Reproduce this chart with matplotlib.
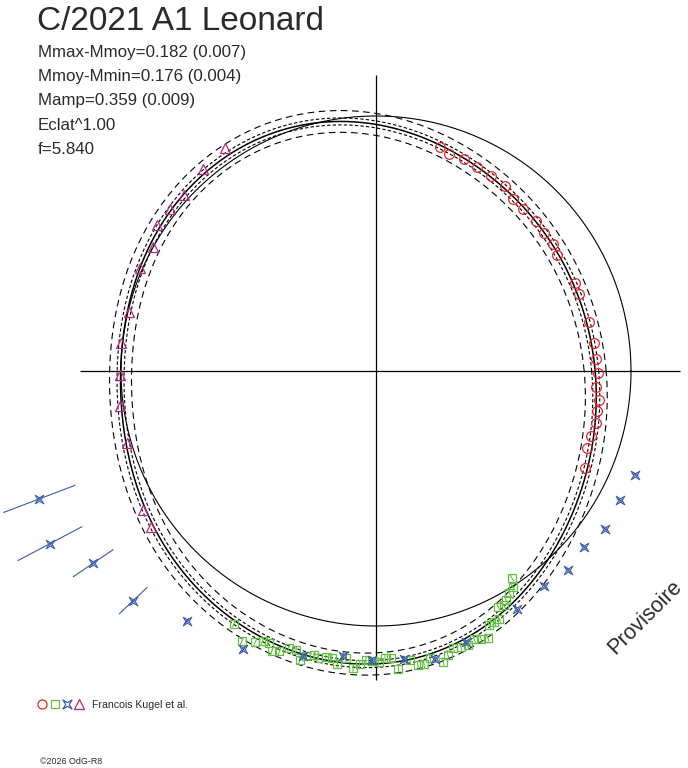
import numpy as np
import matplotlib
matplotlib.use('Agg')
import matplotlib.pyplot as plt
from matplotlib.path import Path

plt.rcParams['font.family'] = ['Liberation Sans', 'DejaVu Sans']

W, H = 688, 768          # output size, pixels
CX, CY = 376, 371        # pole of the polar diagram (pixels from top-left)

title = 'C/2021 A1 Leonard'
info_lines = ['Mmax-Mmoy=0.182 (0.007)',
              'Mmoy-Mmin=0.176 (0.004)',
              'Mamp=0.359 (0.009)',
              'Eclat^1.00',
              'f=5.840']
observer = 'Francois Kugel et al.'
credit = '\u00a92026 OdG-R8'
stamp = 'Provisoire'

## reference circle and fitted curve (radius in px, phase angle in degrees)
ref_r = 255
fit_deg = np.arange(0, 360, 15)
fit_r = [218, 217, 216, 219, 226, 235, 248, 254, 262, 262, 258, 256,
         256, 259, 269, 276, 289, 292, 290, 290, 266, 253, 238, 226]
band_inner = 3.5
band_outer = 11

## observations
circ_deg = [74.1, 71.3, 67.4, 63.6, 59.5, 55.2, 51.4, 47.7, 43.3, 39.4, 35.7, 32.7, 23.8,
            20.8, 12.9, 7.2, 3.0, -0.4, -4.2, -7.4, -10.2, -13.4, -16.9, -20.0, -25.0]
circ_r = [233.2, 229.0, 229.4, 227.5, 226.4, 225.6, 219.8, 218.7, 219.3, 217.2, 218.3, 215.4, 217.5,
          216.8, 218.2, 220.1, 220.6, 222.0, 220.9, 224.9, 224.9, 226.4, 224.4, 224.8, 230.3]

sq_deg = [240.7, 243.6, 246.0, 247.2, 248.5, 249.6, 251.0, 252.5, 254.0, 255.2, 256.3, 257.7,
          258.5, 260.0, 261.2, 262.5, 264.1, 265.6, 266.8, 268.0, 269.3, 270.5, 271.8, 272.9,
          274.3, 276.7, 278.1, 279.3, 280.7, 283.0, 284.2, 285.6, 287.1, 288.5, 290.1, 291.4,
          292.7, 294.0, 295.2, 296.4, 297.4, 298.6, 299.6, 301.0, 302.4, 303.3]
sq_r = [289.9, 301.6, 296.9, 292.8, 292.4, 299.1, 296.5, 290.1, 290.6, 298.9, 293.6, 290.4,
        293.2, 290.8, 290.1, 295.2, 288.2, 297.6, 293.8, 289.2, 290.0, 290.7, 286.8, 287.1,
        298.5, 291.0, 297.2, 297.2, 291.7, 298.3, 292.6, 287.9, 288.4, 288.9, 285.7, 288.1,
        289.0, 278.3, 277.6, 277.1, 265.5, 266.4, 263.3, 259.2, 255.4, 247.4]
sq_err = 3.5

star_deg = [200.8, 207.9, 214.2, 223.4, 232.9, 244.5, 255.7, 263.4, 269.2, 275.5, 281.6, 288.3,
            300.6, 308.1, 314.0, 319.8, 325.4, 332.1, 338.2]
star_r = [360.1, 368.9, 341.9, 334.2, 313.6, 308.3, 294.1, 286.9, 289.5, 289.6, 294.3, 285.5,
          276.5, 272.8, 276.7, 272.3, 278.0, 276.0, 279.0]
star_err = [38, 36, 24, 19, 3, 3, 3, 3, 3, 3, 3, 3, 3, 3, 3, 3, 3, 3, 3]

tri_deg = [124.0, 130.6, 137.5, 141.9, 146.4, 150.9, 156.4, 166.6, 173.7, 181.0, 187.9, 196.1,
           210.9, 214.7]
tri_r = [269.4, 265.7, 260.7, 262.3, 263.3, 254.9, 257.8, 254.2, 256.9, 256.0, 258.2, 259.2,
         271.1, 273.6]

RED, GREEN, BLUE, MAG = '#e8242c', '#63c043', '#3c5bab', '#b5287c'
INK = '#2a2a2a'


def to_xy(deg, r):
    t = np.radians(np.asarray(deg, float))
    r = np.asarray(r, float)
    return r * np.cos(t), r * np.sin(t)


def fourier(deg, r, order=6):
    t = np.radians(deg)
    def basis(tt):
        cols = [np.ones_like(tt)]
        for k in range(1, order + 1):
            cols += [np.cos(k * tt), np.sin(k * tt)]
        return np.column_stack(cols)
    coef = np.linalg.lstsq(basis(t), np.asarray(r, float), rcond=None)[0]
    return lambda tt: basis(tt) @ coef


def radial_bars(ax, deg, r, err, color):
    err = np.broadcast_to(np.asarray(err, float), np.shape(r))
    for d, rr, e in zip(deg, r, err):
        x, y = to_xy([d, d], [rr - e, rr + e])
        ax.plot(x, y, color=color, lw=0.8, zorder=3)


star_path = Path([(1, 1), (0, 0.4), (-1, 1), (-0.4, 0), (-1, -1), (0, -0.4),
                  (1, -1), (0.4, 0), (1, 1)],
                 [Path.MOVETO] + [Path.LINETO] * 7 + [Path.CLOSEPOLY])

fig = plt.figure(figsize=(W / 100, H / 100), dpi=100)
ax = fig.add_axes([0, 0, 1, 1])
ax.set_xlim(-CX, W - CX)
ax.set_ylim(-(H - CY), CY)
ax.axis('off')

## cross through the pole
ax.hlines(0, 80 - CX, 680 - CX, color='k', lw=0.9)
ax.vlines(0, CY - 680, CY - 75, color='k', lw=0.9)

## reference circle
tt = np.linspace(0, 2 * np.pi, 721)
ax.plot(*to_xy(np.degrees(tt), np.full_like(tt, ref_r)), color='k', lw=0.8)

## fitted curve with its bands
fit = fourier(fit_deg, fit_r)
rf = fit(tt)
ax.plot(*to_xy(np.degrees(tt), rf), color='k', lw=1.1)
for s in (-1, 1):
    ax.plot(*to_xy(np.degrees(tt), rf + s * band_inner), color='k', lw=0.8, ls=(0, (3, 2)))
    ax.plot(*to_xy(np.degrees(tt), rf + s * band_outer), color='k', lw=0.8, ls=(0, (6, 4)))

## observations
radial_bars(ax, sq_deg, sq_r, sq_err, GREEN)
radial_bars(ax, star_deg, star_r, star_err, BLUE)
ax.plot(*to_xy(circ_deg, circ_r), 'o', ms=7, mfc='none', mec=RED, mew=0.9, zorder=4)
ax.plot(*to_xy(sq_deg, sq_r), 's', ms=6, mfc='none', mec=GREEN, mew=0.9, zorder=4)
ax.plot(*to_xy(star_deg, star_r), ls='none', marker=star_path, ms=6.2, mfc='none', mec=BLUE, mew=0.75, zorder=4)
ax.plot(*to_xy(star_deg, star_r), 'x', ms=2.6, mec=BLUE, mew=0.6, zorder=4)
ax.plot(*to_xy(tri_deg, tri_r), '^', ms=6.8, mfc='none', mec=MAG, mew=0.9, zorder=4)

## texts
def fxy(px, py):
    return px / W, 1 - py / H

fig.text(*fxy(37, 22), title, fontsize=24, va='center', color=INK)
for i, line in enumerate(info_lines):
    fig.text(*fxy(38, 52 + 24.5 * i), line, fontsize=12.2, va='center', color=INK)

## legend
lx = [42, 55, 67, 79]
for x0, m, c in zip(lx, ['o', 's', star_path, '^'], [RED, GREEN, BLUE, MAG]):
    fig.lines.append(plt.Line2D([x0 / W], [1 - 704 / H], transform=fig.transFigure, ls='none',
                                marker=m, ms=6.5 if m != 's' else 5.5, mfc='none', mec=c, mew=0.9))
fig.text(*fxy(92, 705), observer, fontsize=7.6, va='center', color=INK)
fig.text(*fxy(40, 761), credit, fontsize=6.4, va='center', color=INK)
fig.text(*fxy(645, 617), stamp, fontsize=15.5, rotation=45, ha='center', va='center', color=INK)

fig.savefig('out.png', dpi=100)
